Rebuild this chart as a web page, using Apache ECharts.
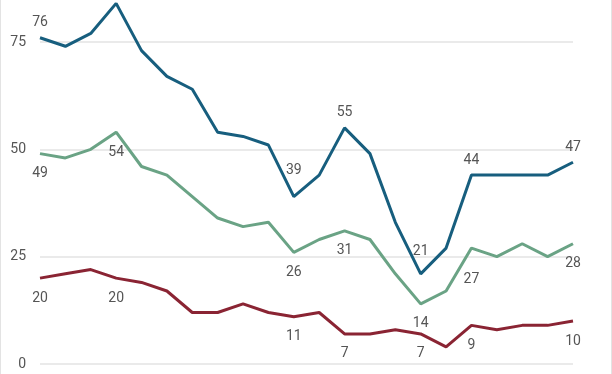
<!DOCTYPE html>
<html><head><meta charset="utf-8">
<script src="https://cdn.jsdelivr.net/npm/echarts@6/dist/echarts.min.js"></script>
<style>html,body{margin:0;padding:0;background:#fff}#c{width:612px;height:374px}</style>
</head><body><div id="c"></div>
<script>
const categories = ['1','2','3','4','5','6','7','8','9','10','11','12','13','14','15','16','17','18','19','20','21','22'];
const blueValues  = [76,74,77,84,73,67,64,54,53,51,39,44,55,49,33,21,27,44,44,44,44,47];
const greenValues = [49,48,50,54,46,44,39,34,32,33,26,29,31,29,21,14,17,27,25,28,25,28];
const redValues   = [20,21,22,20,19,17,12,12,14,12,11,12,7,7,8,7,4,9,8,9,9,10];
const blueLabelIdx  = [0,10,12,15,17,21];
const greenLabelIdx = [0,3,10,12,15,17,21];
const redLabelIdx   = [0,3,10,12,15,17,21];
const yTicks = [0,25,50,75];

const FONT = 'Roboto';
const TXT = '#555555';
function build(values, labelIdx, pos, base, extra) {
  return values.map((v, i) => {
    if (labelIdx.indexOf(i) < 0) return v;
    return {value: v, label: {show: true, position: pos, distance: (extra[i] || base)}};
  });
}
function series(name, color, data) {
  return {
    name, type: 'line', data, symbol: 'circle', symbolSize: 0, showSymbol: true, clip: false,
    lineStyle: {color, width: 3}, itemStyle: {color},
    label: {show: false, color: TXT, fontFamily: FONT, fontSize: 14},
    labelLayout: {hideOverlap: false},
    z: 3
  };
}
const chart = echarts.init(document.getElementById('c'), null, {renderer: 'canvas'});
chart.setOption({
  animation: false,
  backgroundColor: '#fff',
  grid: {left: 40, right: 39, top: 42, bottom: 10, containLabel: false},
  xAxis: {type: 'category', data: categories, boundaryGap: false,
    axisLine: {show: false}, axisTick: {show: false}, axisLabel: {show: false}, splitLine: {show: false}},
  yAxis: {type: 'value', min: yTicks[0], max: yTicks[yTicks.length-1], interval: 25,
    axisLine: {show: false}, axisTick: {show: false},
    axisLabel: {color: TXT, fontFamily: FONT, fontSize: 14, margin: 14},
    splitLine: {lineStyle: {color: '#e3e3e3', width: 1.5}}},
  graphic: [
    {type: 'line', shape: {x1: 0.5, y1: 0, x2: 0.5, y2: 374}, style: {stroke: '#e3e3e3', lineWidth: 1}},
    {type: 'line', shape: {x1: 611.5, y1: 0, x2: 611.5, y2: 374}, style: {stroke: '#e3e3e3', lineWidth: 1}}
  ],
  series: [
    series('red', '#8a2433', build(redValues, redLabelIdx, 'bottom', 13, {})),
    series('green', '#6aa385', build(greenValues, greenLabelIdx, 'bottom', 13, {17: 24})),
    series('blue', '#175e7e', build(blueValues, blueLabelIdx, 'top', 8, {10: 19, 15: 15}))
  ]
});
</script></body></html>
